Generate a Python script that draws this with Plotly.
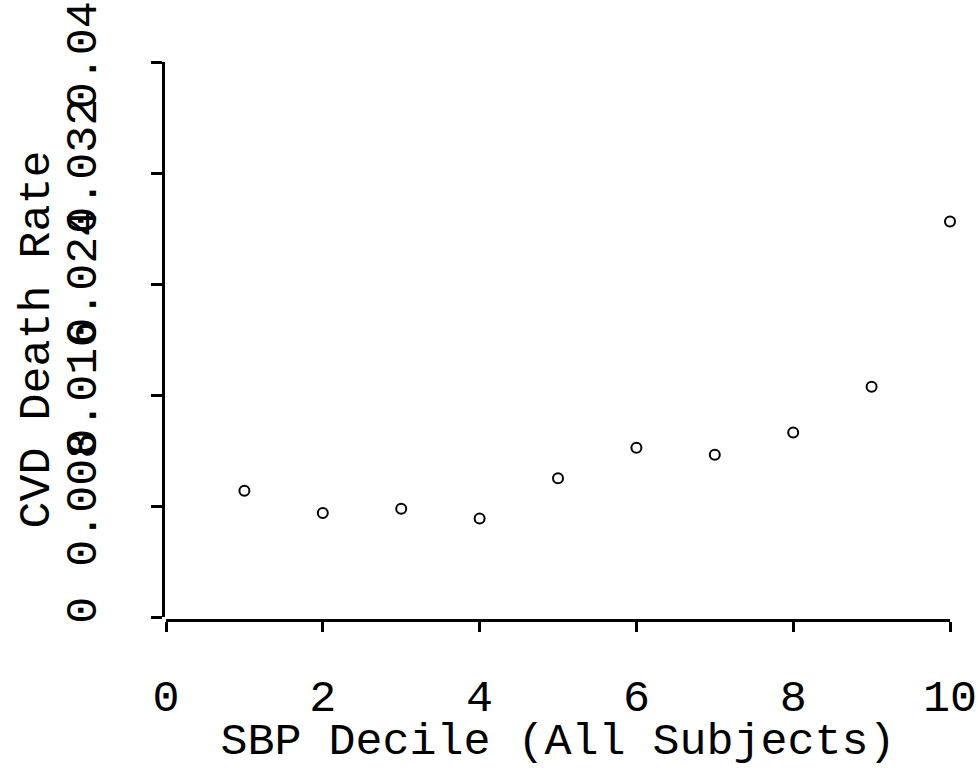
import plotly.graph_objects as go

deciles = [1, 2, 3, 4, 5, 6, 7, 8, 9, 10]
cvd_rate = [0.0091, 0.0075, 0.0078, 0.0071, 0.0100, 0.0122, 0.0117, 0.0133, 0.0166, 0.0285]
x_ticks = [0, 2, 4, 6, 8, 10]
y_ticks = [0, 0.008, 0.016, 0.024, 0.032, 0.04]
y_tick_labels = ["0", "0.008", "0.016", "0.024", "0.032", "0.04"]
x_title = "SBP Decile (All Subjects)"
y_title = "CVD Death Rate"

W, H = 978, 768
ml, mr, mt, mb = 163, 28, 62, 148
pw = W - ml - mr
ph = H - mt - mb

fig = go.Figure()
fig.add_trace(go.Scatter(
    x=deciles, y=cvd_rate, mode="markers",
    marker=dict(symbol="circle-open", size=10, color="black", line=dict(width=2, color="black")),
    cliponaxis=False, showlegend=False,
))

font = dict(family="Liberation Mono", size=45, color="black")

fig.update_layout(
    width=W, height=H,
    margin=dict(l=ml, r=mr, t=mt, b=mb, pad=0),
    paper_bgcolor="white", plot_bgcolor="white",
    font=font,
    xaxis=dict(
        domain=[3 / pw, 1], range=[0, 10], anchor="free", position=0,
        tickvals=x_ticks, ticktext=[str(v) for v in x_ticks],
        showline=True, linecolor="black", linewidth=3,
        ticks="outside", ticklen=10, tickwidth=3, tickcolor="black",
        showgrid=False, zeroline=False, ticklabelstandoff=25,
        title=dict(text=x_title, font=font, standoff=12),
        automargin=False,
    ),
    yaxis=dict(
        domain=[3 / ph, 1], range=[0, 0.04], anchor="free", position=0,
        tickvals=y_ticks, ticktext=y_tick_labels, tickangle=-90,
        showline=True, linecolor="black", linewidth=3,
        ticks="outside", ticklen=11, tickwidth=3, tickcolor="black",
        showgrid=False, zeroline=False, ticklabelstandoff=37,
        automargin=False,
    ),
    annotations=[dict(
        text=y_title, font=font, textangle=-90,
        xref="paper", yref="paper", x=(37 - ml) / pw, y=0.5 + 1.5 / ph,
        xanchor="center", yanchor="middle", showarrow=False,
    )],
)

fig.write_html("out.html")
